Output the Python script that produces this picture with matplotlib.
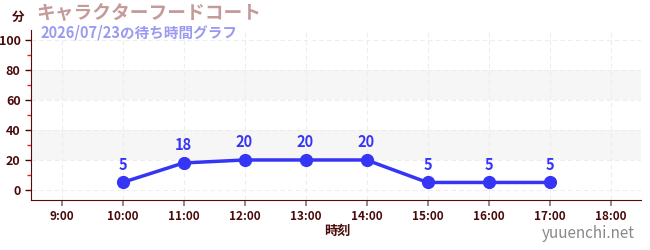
import matplotlib
matplotlib.use("Agg")
import matplotlib.pyplot as plt
from matplotlib.ticker import MultipleLocator

plt.rcParams['font.family'] = ['Noto Sans CJK JP', 'DejaVu Sans']

hours = [10, 11, 12, 13, 14, 15, 16, 17]
waits = [5, 18, 20, 20, 20, 5, 5, 5]
xticks = [9, 10, 11, 12, 13, 14, 15, 16, 17, 18]
xticklabels = [f"{h}:00" for h in xticks]
yticks = [0, 20, 40, 60, 80, 100]
title = "キャラクターフードコート"
subtitle = "2026/07/23の待ち時間グラフ"

fig = plt.figure(figsize=(6.5, 2.5), dpi=100)
ax = fig.add_axes([31/650, 50/250, 610/650, 170/250])
ax.set_xlim(8.5, 18.5)
ax.set_ylim(-6.7, 106.7)

for lo, hi in [(20, 40), (60, 80)]:
    ax.axhspan(lo, hi, color='#f6f6f6', zorder=0, lw=0)

ax.grid(True, which='major', color='#ededed', ls=(0, (4, 3)), lw=0.8, zorder=0.5)

line_color = '#3535f5'
ax.plot(hours, waits, color=line_color, lw=2.5, marker='o', ms=8.5, zorder=3)
for h, w in zip(hours, waits):
    ax.annotate(str(w), (h, w), xytext=(0, 7), textcoords='offset points',
                ha='center', va='bottom', color=line_color, fontsize=10.5, fontweight='bold')

ax.set_xticks(xticks)
ax.set_xticklabels(xticklabels)
ax.set_yticks(yticks)
ax.yaxis.set_minor_locator(MultipleLocator(10))

dark = '#4a0a0a'
ax.tick_params(axis='x', colors='#777777', labelcolor=dark, labelsize=8.5, length=4, width=1.2)
ax.tick_params(axis='y', which='major', colors=dark, labelcolor=dark, labelsize=9, length=4, width=1)
ax.tick_params(axis='y', which='minor', colors='#dd2222', length=3, width=1)
for lab in ax.get_xticklabels() + ax.get_yticklabels():
    lab.set_fontweight('bold')

for s in ['top', 'right']:
    ax.spines[s].set_visible(False)
ax.spines['left'].set_color('#5a0a0a')
ax.spines['bottom'].set_color('#5a0a0a')

fig.text(36/650, 1 - 14/250, title, color='#c49a9a', fontsize=13.5, fontweight='bold', va='center', ha='left')
fig.text(40/650, 1 - 32/250, subtitle, color='#9a9af0', fontsize=10.5, fontweight='bold', va='center', ha='left')
fig.text(18/650, 1 - 17/250, "分", color=dark, fontsize=9, fontweight='bold', va='center', ha='center')
fig.text(337/650, 1 - 231/250, "時刻", color=dark, fontsize=9.5, fontweight='bold', va='center', ha='center')
fig.text(635/650, 1 - 234/250, "yuuenchi.net", color='#888888', fontsize=11, va='center', ha='right')

fig.savefig("out.png", dpi=100)
